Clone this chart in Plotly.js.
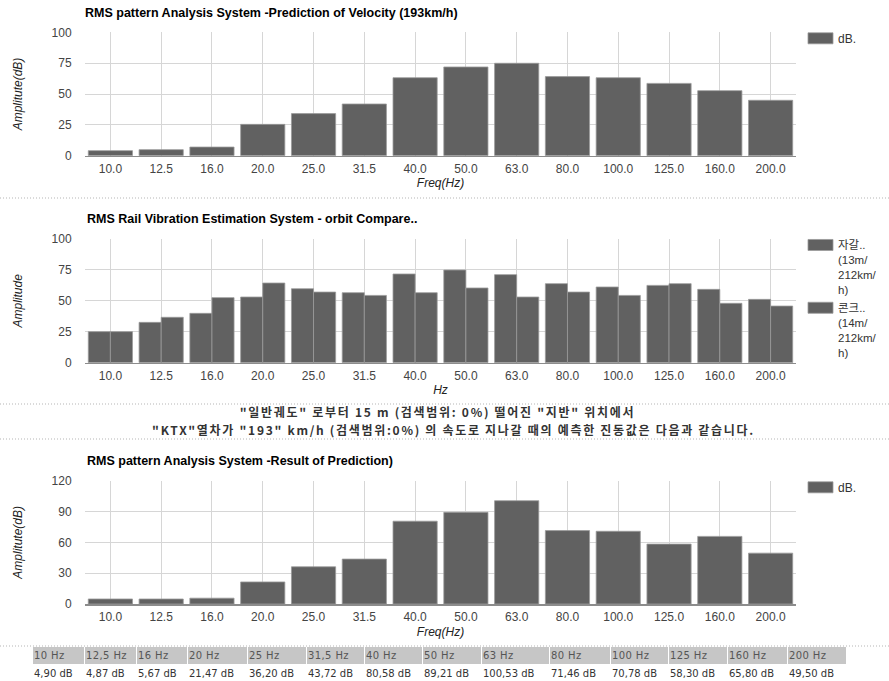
<!DOCTYPE html>
<html>
<head>
<meta charset="utf-8">
<script src="https://cdn.plot.ly/plotly-3.0.1.min.js"></script>
<style>
  body { margin: 0; background: #fff; }
  #wrap { position: relative; width: 889px; height: 681px; overflow: hidden; background: #fff; }
  #chart { position: absolute; left: 0; top: 0; width: 889px; height: 681px; }
  .info { position: absolute; left: 0; width: 889px; text-align: center; white-space: nowrap;
          font-family: "Noto Sans CJK KR", "Noto Sans", sans-serif; font-size: 12px; font-weight: bold;
          letter-spacing: 1.7px; color: #333; line-height: 14px; height: 14px; }
  #tbl { position: absolute; left: 32px; top: 647px; border-collapse: separate; border-spacing: 1px 0;
         table-layout: fixed; font-family: "DejaVu Sans", Verdana, sans-serif; font-size: 10px; }
  #tbl th { background: #c6c6c6; color: #555; font-weight: normal; text-align: left; padding: 0 0 0 1px;
            height: 17px; letter-spacing: 0.4px; white-space: nowrap; overflow: hidden; }
  #tbl td { color: #333; text-align: left; padding: 0 0 0 1px; height: 19px; white-space: nowrap; }
</style>
</head>
<body>
<div id="wrap">
  <div id="chart"></div>
  <div id="info1" class="info"></div>
  <div id="info2" class="info"></div>
  <table id="tbl"></table>
</div>
<script>
// ---------------- data ----------------
const freqLabels = ['10.0','12.5','16.0','20.0','25.0','31.5','40.0','50.0','63.0','80.0','100.0','125.0','160.0','200.0'];
const velocityDb = [4.1, 4.9, 7.0, 25.4, 34.1, 41.9, 63.2, 71.9, 74.9, 64.1, 63.2, 58.6, 52.7, 44.9];
const ballastAmp = [25.1, 32.6, 39.9, 53.1, 59.8, 56.6, 71.7, 74.9, 71.2, 63.9, 61.2, 62.5, 59.3, 51.2];
const concreteAmp = [25.1, 36.7, 52.6, 64.4, 57.1, 54.4, 56.6, 60.4, 53.1, 57.1, 54.4, 63.9, 48.0, 45.8];
const resultDb = [4.90, 4.87, 5.67, 21.47, 36.20, 43.72, 80.58, 89.21, 100.53, 71.46, 70.78, 58.30, 65.80, 49.50];
const tableHeaders = ['10 Hz','12,5 Hz','16 Hz','20 Hz','25 Hz','31,5 Hz','40 Hz','50 Hz','63 Hz','80 Hz','100 Hz','125 Hz','160 Hz','200 Hz'];
const seriesNames = ['dB.', '자갈..<br>(13m/<br>212km/<br>h)', '콘크..<br>(14m/<br>212km/<br>h)', 'dB.'];
const chartTitles = [
  'RMS pattern Analysis System -Prediction of Velocity (193km/h)',
  'RMS Rail Vibration Estimation System - orbit Compare..',
  'RMS pattern Analysis System -Result of Prediction)'
];
const xTitles = ['Freq(Hz)', 'Hz', 'Freq(Hz)'];
const yTitles = ['Amplitute(dB)', 'Amplitude', 'Amplitute(dB)'];
const infoText = ['"일반궤도" 로부터 15 m (검색범위: 0%) 떨어진 "지반" 위치에서',
                  '"KTX"열차가 "193" km/h (검색범위:0%) 의 속도로 지나갈 때의 예측한 진동값은 다음과 같습니다.'];

// ---------------- styling helpers ----------------
const W = 889, H = 681;
const FONT = '"Liberation Sans", Arial, "Noto Sans CJK KR", sans-serif';
const BAR = '#616161';
const PLOT_L = 85, PLOT_R = 796;

function px2domY(top, bottom) { return [1 - bottom / H, 1 - top / H]; }

function xAxis(anchor, title) {
  return {
    domain: [PLOT_L / W, PLOT_R / W], anchor: anchor, type: 'category',
    showgrid: true, gridcolor: '#d6d6d6', gridwidth: 1,
    showline: true, linecolor: '#8c8c8c', linewidth: 1.5,
    ticks: 'outside', ticklen: 1, tickcolor: 'rgba(0,0,0,0)',
    tickfont: { family: FONT, size: 12, color: '#444' },
    title: { text: '<i>' + title + '</i>', font: { family: FONT, size: 12, color: '#222' }, standoff: 4 },
    fixedrange: true
  };
}
function yAxis(anchor, top, bottom, max, dtick, title) {
  return {
    domain: px2domY(top, bottom), anchor: anchor, range: [0, max], dtick: dtick, tick0: 0,
    showgrid: true, gridcolor: '#d6d6d6', gridwidth: 1, zeroline: false, showline: false,
    ticks: 'outside', ticklen: 10, tickcolor: 'rgba(0,0,0,0)',
    tickfont: { family: FONT, size: 12, color: '#444' },
    title: { text: '<i>' + title + '</i>', font: { family: FONT, size: 12, color: '#222' }, standoff: 26 },
    fixedrange: true
  };
}
function legendAt(topPx, fontSize) {
  return {
    x: 798 / W, xanchor: 'left', y: 1 - topPx / H, yanchor: 'top',
    bgcolor: 'rgba(0,0,0,0)', borderwidth: 0, valign: 'top',
    font: { family: FONT, size: fontSize, color: '#333' }, itemwidth: 30, tracegroupgap: 0
  };
}
function barTrace(x, y, name, xa, ya, leg) {
  return {
    type: 'bar', x: x, y: y, name: name, xaxis: xa, yaxis: ya, legend: leg,
    marker: { color: BAR, line: { color: '#9a9a9a', width: 0.8 } },
    hoverinfo: 'skip'
  };
}

const data = [
  barTrace(freqLabels, velocityDb, seriesNames[0], 'x', 'y', 'legend'),
  barTrace(freqLabels, ballastAmp, seriesNames[1], 'x2', 'y2', 'legend2'),
  barTrace(freqLabels, concreteAmp, seriesNames[2], 'x2', 'y2', 'legend2'),
  barTrace(freqLabels, resultDb, seriesNames[3], 'x3', 'y3', 'legend3')
];

function sep(yPx) {
  return { type: 'line', xref: 'paper', yref: 'paper', x0: 0, x1: 1, y0: 1 - yPx / H, y1: 1 - yPx / H,
           line: { color: '#b5b5b5', width: 1, dash: '1px,2px' } };
}
function titleAnn(text, yPx) {
  return { text: '<b>' + text + '</b>', xref: 'paper', yref: 'paper', x: PLOT_L / W, xanchor: 'left',
           y: 1 - yPx / H, yanchor: 'middle', showarrow: false, font: { family: FONT, size: 12.5, color: '#000' } };
}

const layout = {
  width: W, height: H, margin: { l: 0, r: 0, t: 0, b: 0 },
  paper_bgcolor: '#fff', plot_bgcolor: '#fff',
  font: { family: FONT, size: 12, color: '#444' },
  showlegend: true, barmode: 'group', bargap: 0.13, bargroupgap: 0,
  title: { text: '<b>' + chartTitles[0] + '</b>', x: PLOT_L / W, xanchor: 'left', xref: 'paper',
           y: 1 - 13 / H, yanchor: 'middle', yref: 'paper', font: { family: FONT, size: 12.5, color: '#000' } },
  xaxis: xAxis('y', xTitles[0]),
  yaxis: yAxis('x', 32.3, 155.7, 100, 25, yTitles[0]),
  xaxis2: xAxis('y2', xTitles[1]),
  yaxis2: yAxis('x2', 239, 362.7, 100, 25, yTitles[1]),
  xaxis3: xAxis('y3', xTitles[2]),
  yaxis3: yAxis('x3', 480.7, 604, 120, 30, yTitles[2]),
  legend: legendAt(24, 12),
  legend2: legendAt(231, 11.5),
  legend3: legendAt(473, 12),
  shapes: [sep(198), sep(404), sep(439), sep(646)],
  annotations: [
    titleAnn(chartTitles[1], 219),
    titleAnn(chartTitles[2], 461)
  ]
};

function widenSwatches() {
  // flat rectangular legend swatches as in the reference
  document.querySelectorAll('#chart g.legendpoints path').forEach(function (p) {
    p.setAttribute('d', 'M15,5.5H-10V-5.5H15Z');
  });
}
Plotly.newPlot('chart', data, layout, { staticPlot: true, displayModeBar: false }).then(function () {
  widenSwatches();
  setTimeout(widenSwatches, 50);
});

// ---------------- middle info text ----------------
const info1 = document.getElementById('info1');
const info2 = document.getElementById('info2');
info1.textContent = infoText[0];
info2.textContent = infoText[1];
info1.style.top = '405px'; info1.style.transform = 'translateX(-7px)';
info2.style.top = '423px'; info2.style.transform = 'translateX(9px)';

// ---------------- bottom value table ----------------
const colStarts = [33, 85, 137, 188, 248, 307, 365, 423, 482, 550, 611, 669, 728, 788, 847];
const tbl = document.getElementById('tbl');
let html = '<colgroup>';
for (let i = 0; i < tableHeaders.length; i++) html += '<col style="width:' + (colStarts[i + 1] - colStarts[i] - 1) + 'px">';
html += '</colgroup><tr>';
tableHeaders.forEach(t => { html += '<th>' + t + '</th>'; });
html += '</tr><tr>';
resultDb.forEach(v => { html += '<td>' + v.toFixed(2).replace('.', ',') + ' dB</td>'; });
html += '</tr>';
tbl.innerHTML = html;
</script>
</body>
</html>
